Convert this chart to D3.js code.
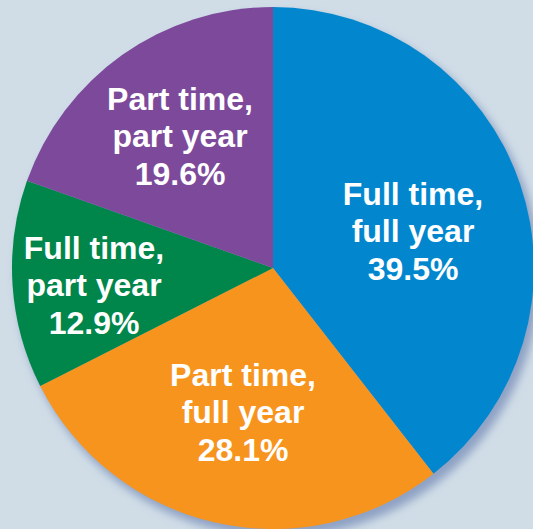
<!DOCTYPE html>
<html>
<head>
<meta charset="utf-8">
<script src="https://cdn.jsdelivr.net/npm/d3@7"></script>
<style>
  html, body { margin: 0; padding: 0; background: #d0dde7; }
  svg { display: block; }
  .slice-label { font-family: "Liberation Sans", Arial, sans-serif; font-weight: bold; fill: #fff; }
</style>
</head>
<body>
<div id="chart"></div>
<script>
// --- data ---
const categories = ["Full time, full year", "Part time, full year", "Full time, part year", "Part time, part year"];
const shares = [39.5, 28.1, 12.9, 19.6];
const labelLines = [
  ["Full time,", "full year", "39.5%"],
  ["Part time,", "full year", "28.1%"],
  ["Full time,", "part year", "12.9%"],
  ["Part time,", "part year", "19.6%"]
];
const sliceColors = ["#0287cf", "#f7941d", "#00864a", "#7d4a9b"];

// label anchors relative to the pie centre (layout, not data)
const labelOffsets = [[140, -37], [-30, 144], [-179, 17], [-93, -132]];

// --- sizing ---
const width = 533, height = 529;
const cx = 273, cy = 268, radius = 261;
const fontSize = 32, lineHeight = 37.5;

const svg = d3.select("#chart").append("svg")
  .attr("width", width)
  .attr("height", height);

svg.append("rect").attr("width", width).attr("height", height).attr("fill", "#d0dde7");

const defs = svg.append("defs");
const shadow = defs.append("filter").attr("id", "shadow")
  .attr("x", "-20%").attr("y", "-20%").attr("width", "140%").attr("height", "140%");
shadow.append("feGaussianBlur").attr("stdDeviation", 4.5);

const g = svg.append("g").attr("transform", `translate(${cx},${cy})`);

// soft shadow down-right
g.append("circle")
  .attr("cx", 5).attr("cy", 7).attr("r", radius + 1)
  .attr("fill", "#8fa2c4")
  .attr("filter", "url(#shadow)");

const color = d3.scaleOrdinal().domain(categories).range(sliceColors);

const pie = d3.pie()
  .value((d, i) => shares[i])
  .sort(null);

const arc = d3.arc().innerRadius(0).outerRadius(radius);

const arcs = pie(categories);

g.selectAll(".slice")
  .data(arcs)
  .enter().append("path")
  .attr("class", "slice")
  .attr("d", arc)
  .attr("fill", d => color(d.data));

// labels
const lbl = g.selectAll(".slice-label")
  .data(arcs)
  .enter().append("text")
  .attr("class", "slice-label")
  .attr("text-anchor", "middle")
  .style("font-size", fontSize + "px")
  .attr("transform", (d, i) => `translate(${labelOffsets[i][0]},${labelOffsets[i][1]})`);

lbl.selectAll("tspan")
  .data((d, i) => labelLines[i])
  .enter().append("tspan")
  .attr("x", 0)
  .attr("y", (t, j) => (j - 1) * lineHeight + fontSize * 0.35)
  .text(t => t);
</script>
</body>
</html>
